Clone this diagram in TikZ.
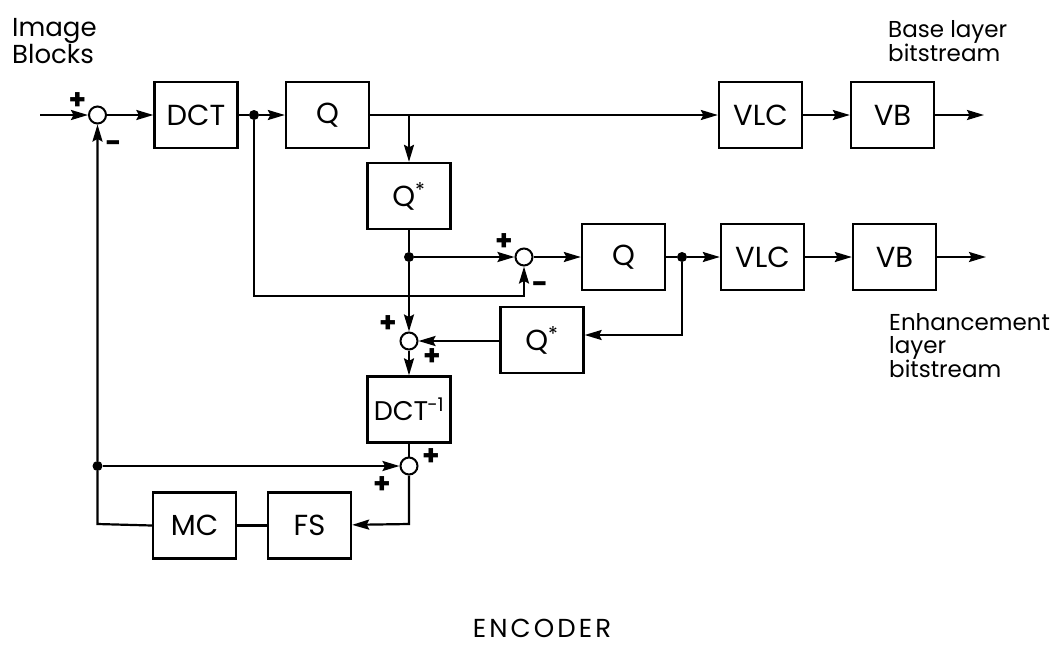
\documentclass[tikz,border=0pt]{standalone}
\usepackage{fontspec}
\setmainfont{Poppins}
\usetikzlibrary{arrows.meta}
\begin{document}
\begin{tikzpicture}[x=1pt,y=-1pt,
  blk/.style={draw,line width=2.3pt,minimum width=83pt,minimum height=66pt,inner sep=0pt,font=\fontsize{29}{32}\selectfont},
  sumc/.style={circle,draw,line width=2pt,minimum size=17pt,inner sep=0pt},
  dotc/.style={circle,fill,minimum size=10pt,inner sep=0pt},
  wire/.style={line width=2.2pt},
  arr/.style={wire,-{Stealth[length=17pt,width=10pt,inset=2.5pt]}},
  sgn/.style={font=\bfseries\fontsize{28}{30}\selectfont,inner sep=0pt},
  lbl/.style={font=\fontsize{23}{22.5}\selectfont,align=left,inner sep=0pt,anchor=west}]
\useasboundingbox (0,0) rectangle (1050,646);
% blocks
\node[blk] (dct) at (196,115) {DCT};
\node[blk] (q1) at (327.5,115) {Q};
\node[blk] (vlc1) at (760.5,115) {VLC};
\node[blk] (vb1) at (892.5,115) {VB};
\node[blk] (qs1) at (409,196) {Q\textsuperscript{*}};
\node[blk] (q2) at (623.5,257) {Q};
\node[blk] (vlc2) at (762.5,257) {VLC};
\node[blk] (vb2) at (894.5,257) {VB};
\node[blk] (qs2) at (542,340) {Q\textsuperscript{*}};
\node[blk,font=\fontsize{27}{30}\selectfont] (idct) at (409,409.5) {DCT\kern-1pt\textsuperscript{-1}};
\node[blk] (mc) at (194.5,525.5) {MC};
\node[blk] (fs) at (309.5,525.5) {FS};
% summing junctions
\node[sumc] (s1) at (97.5,115) {};
\node[sumc] (s2) at (524,257) {};
\node[sumc] (s3) at (409,341) {};
\node[sumc] (s4) at (409,466) {};
% dots
\node[dotc] (d1) at (254,115) {};
\node[dotc] (d3) at (409,257) {};
\node[dotc] (d4) at (682,257) {};
\node[dotc] (d5) at (97.5,466) {};
% free ends / corners
\coordinate (in) at (40,115);
\coordinate (out1) at (984,115);
\coordinate (out2) at (986,257);
\coordinate (t1) at (409,115);
\coordinate (c1) at (254,296);
\coordinate (c2) at (524,296);
\coordinate (c3) at (682,335);
\coordinate (c4) at (409,524);
\coordinate (c5) at (97.5,524);
% connectors
\draw[arr] (in) -- (s1);
\draw[arr] (s1) -- (dct);
\draw[wire] (dct) -- (d1);
\draw[arr] (d1) -- (q1);
\draw[arr] (q1) -- (vlc1);
\draw[arr] (t1) -- (qs1);
\draw[arr] (vlc1) -- (vb1);
\draw[arr] (vb1) -- (out1);
\draw[wire] (qs1) -- (d3);
\draw[arr] (d3) -- (s2);
\draw[arr] (d3) -- (s3);
\draw[arr,line join=miter] (d1) -- (c1) -- (c2) -- (s2);
\draw[arr] (s2) -- (q2);
\draw[wire] (q2) -- (d4);
\draw[arr] (d4) -- (vlc2);
\draw[arr] (vlc2) -- (vb2);
\draw[arr] (vb2) -- (out2);
\draw[arr,line join=miter] (d4) -- (c3) -- (qs2.east |- c3);
\draw[arr] (qs2.west |- s3) -- (s3);
\draw[arr] (s3) -- (idct);
\draw[wire] (idct) -- (s4);
\draw[arr] (d5) -- (s4);
\draw[arr,line join=miter] (s4) -- (c4) -- (fs);
\draw[wire] (fs) -- (mc);
\draw[arr,line join=miter] (mc.west) -- (c5) -- (d5) -- (s1);
% signs
\node[sgn] at (77.5,101) {+};
\node[sgn] at (113.5,147) {-};
\node[sgn] at (504,242) {+};
\node[sgn] at (540,288) {-};
\node[sgn] at (388,324) {+};
\node[sgn] at (432,357) {+};
\node[sgn] at (431,457) {+};
\node[sgn] at (382,485) {+};
% labels
\node[lbl,font=\fontsize{26}{26}\selectfont] (lim) at (12,41) {Image\\Blocks};
\node[lbl] (lbase) at (888,41) {Base layer\\bitstream};
\node[lbl] (lenh) at (889,346) {Enhancement\\layer\\bitstream};
\node[font=\fontsize{26}{28}\selectfont\addfontfeature{LetterSpace=12},inner sep=0pt,anchor=base] (enc) at (542,637) {ENCODER};
\end{tikzpicture}
\end{document}
